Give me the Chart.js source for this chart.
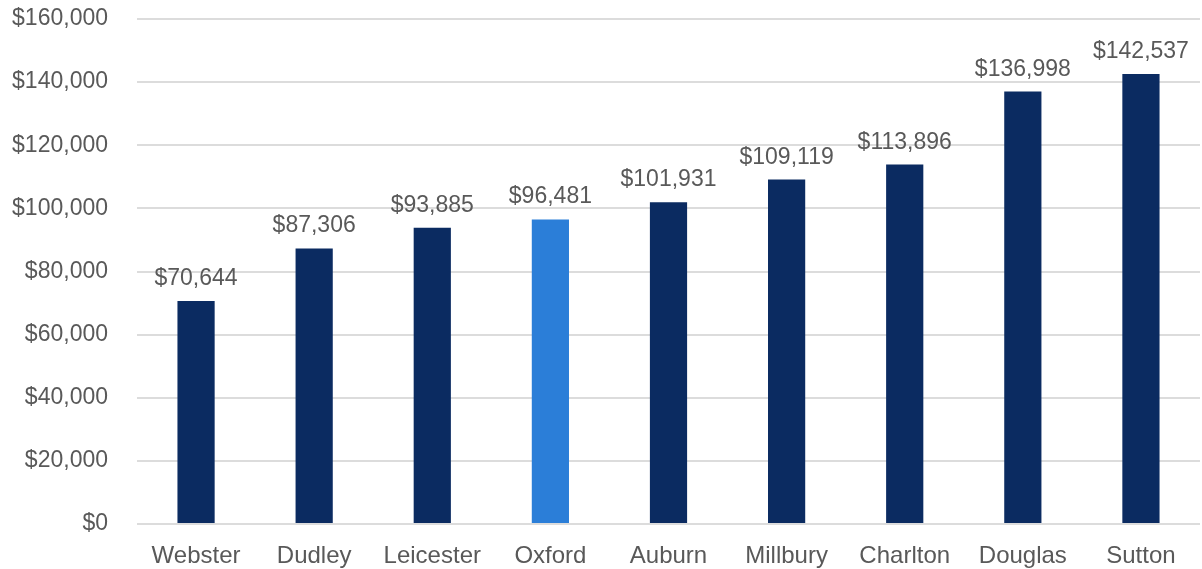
<!DOCTYPE html>
<html>
<head>
<meta charset="utf-8">
<script src="https://cdn.jsdelivr.net/npm/chart.js@4/dist/chart.umd.min.js"></script>
<style>
  html, body { margin: 0; padding: 0; background: #ffffff; }
  #wrap { width: 1202px; height: 569px; position: relative; }
</style>
</head>
<body>
<div id="wrap"><canvas id="chart" width="1202" height="569"></canvas></div>
<script>
// Median household income by town
const towns = ['Webster', 'Dudley', 'Leicester', 'Oxford', 'Auburn', 'Millbury', 'Charlton', 'Douglas', 'Sutton'];
const incomes = [70644, 87306, 93885, 96481, 101931, 109119, 113896, 136998, 142537];
const highlightTown = 'Oxford';
const yTicks = [0, 20000, 40000, 60000, 80000, 100000, 120000, 140000, 160000];

const NAVY = '#0b2b61';
const BLUE = '#2b7ed8';
const TEXT = '#595959';
const FONT = '"Liberation Sans", Arial, sans-serif';

const money = v => '$' + v.toLocaleString('en-US');

const valueLabels = {
  id: 'valueLabels',
  afterDatasetsDraw(chart) {
    const ctx = chart.ctx;
    const meta = chart.getDatasetMeta(0);
    ctx.save();
    ctx.font = '23px ' + FONT;
    ctx.fillStyle = TEXT;
    ctx.textAlign = 'center';
    ctx.textBaseline = 'alphabetic';
    meta.data.forEach((bar, i) => {
      ctx.fillText(money(chart.data.datasets[0].data[i]), bar.x, bar.y - 16);
    });
    ctx.restore();
  }
};

new Chart(document.getElementById('chart'), {
  type: 'bar',
  data: {
    labels: towns,
    datasets: [{
      data: incomes,
      backgroundColor: towns.map(t => t === highlightTown ? BLUE : NAVY),
      borderWidth: 0,
      barPercentage: 0.315,
      categoryPercentage: 1.0
    }]
  },
  options: {
    responsive: false,
    animation: false,
    devicePixelRatio: 1,
    layout: { padding: { top: 19, right: 2, left: 0, bottom: 0 } },
    plugins: { legend: { display: false }, tooltip: { enabled: false } },
    scales: {
      x: {
        grid: { display: false, drawTicks: false },
        border: { display: false },
        ticks: { color: TEXT, font: { family: FONT, size: 24 }, padding: 18 },
        afterFit(scale) { scale.height = 45; scale.paddingLeft = 0; scale.paddingRight = 0; }
      },
      y: {
        min: yTicks[0],
        max: yTicks[yTicks.length - 1],
        afterBuildTicks(scale) { scale.ticks = yTicks.map(v => ({ value: v })); },
        grid: { color: '#dcdcdc', lineWidth: 2, drawTicks: false },
        border: { display: false },
        ticks: { color: TEXT, font: { family: FONT, size: 23 }, padding: 29, callback: v => money(v) },
        afterFit(scale) { scale.width = 137; scale.paddingTop = 0; scale.paddingBottom = 0; }
      }
    }
  },
  plugins: [valueLabels]
});
</script>
</body>
</html>
